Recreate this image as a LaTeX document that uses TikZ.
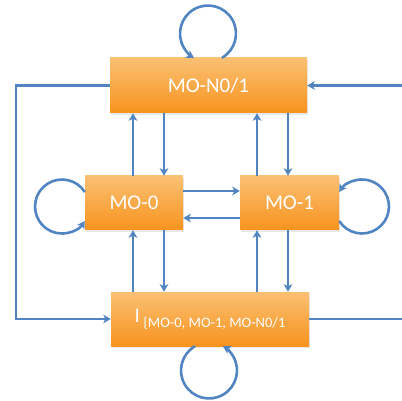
\documentclass[tikz,border=0pt]{standalone}
\usepackage{fontspec}
\setmainfont{Carlito}
\usetikzlibrary{arrows.meta,calc,shadows}
\definecolor{lineblue}{HTML}{5085C2}
\definecolor{boxtop}{HTML}{FBC073}
\definecolor{boxbot}{HTML}{F7931E}
\begin{document}
\begin{tikzpicture}[x=1pt,y=-1pt,
  statebox/.style={rectangle, inner sep=0pt, top color=boxtop, bottom color=boxbot, draw=none,
    text=white, font=\fontsize{21}{21}\selectfont,
    drop shadow={opacity=0.18, shadow xshift=1pt, shadow yshift=-2pt}},
  arr/.style={draw=lineblue, line width=2.6pt, -{Stealth[length=7.5pt,width=8.5pt,inset=2pt]}}]
\useasboundingbox (0,0) rectangle (402,401);
\clip (0,0) rectangle (402,401);
\fill[white] (0,0) rectangle (402,401);
% nodes
\node[statebox, minimum width=197pt, minimum height=55pt] (T) at (208.5,85.5) {MO-N0/1};
\node[statebox, minimum width=98pt, minimum height=54pt] (L) at (134,203) {MO-0};
\node[statebox, minimum width=99pt, minimum height=54pt] (R) at (289.5,203) {MO-1};
\node[statebox, minimum width=198pt, minimum height=54pt] (B) at (210,319)
  {I\,\raisebox{-5pt}{\fontsize{14.5}{14.5}\selectfont\{MO-0, MO-1, MO-N0/1}};
% helper coordinates
\path (133,0) coordinate (xa) (164,0) coordinate (xb) (257,0) coordinate (xc) (288,0) coordinate (xd);
\path (0,191) coordinate (ya) (0,218) coordinate (yb);
\path (16,0) coordinate (xl) (404,0) coordinate (xr);
% vertical connectors
\draw[arr] (L.north -| xa) -- (T.south -| xa);
\draw[arr] (T.south -| xb) -- (L.north -| xb);
\draw[arr] (R.north -| xc) -- (T.south -| xc);
\draw[arr] (T.south -| xd) -- (R.north -| xd);
\draw[arr] (B.north -| xa) -- (L.south -| xa);
\draw[arr] (L.south -| xb) -- (B.north -| xb);
\draw[arr] (B.north -| xc) -- (R.south -| xc);
\draw[arr] (R.south -| xd) -- (B.north -| xd);
% horizontal connectors
\draw[arr] (L.east |- ya) -- (R.west |- ya);
\draw[arr] (R.west |- yb) -- (L.east |- yb);
% outer connectors
\draw[arr] (T.west) -- (T.west -| xl) -- (B.west -| xl) -- (B.west);
\draw[arr] (B.east) -- (B.east -| xr) -- (T.east -| xr) -- (T.east);
% self loops
\draw[arr] ($(T.north)+(13.5,0)$) arc[start angle=60, end angle=-240, radius=28];
\draw[arr] ($(L.west)+(0,-11)$) arc[start angle=-32.5, end angle=-327.5, radius=27];
\draw[arr] ($(R.east)+(0,18)$) arc[start angle=147.5, end angle=-147.5, radius=27];
\draw[arr] ($(B.south)+(-15,0)$) arc[start angle=240, end angle=-60, radius=28];
\end{tikzpicture}
\end{document}
